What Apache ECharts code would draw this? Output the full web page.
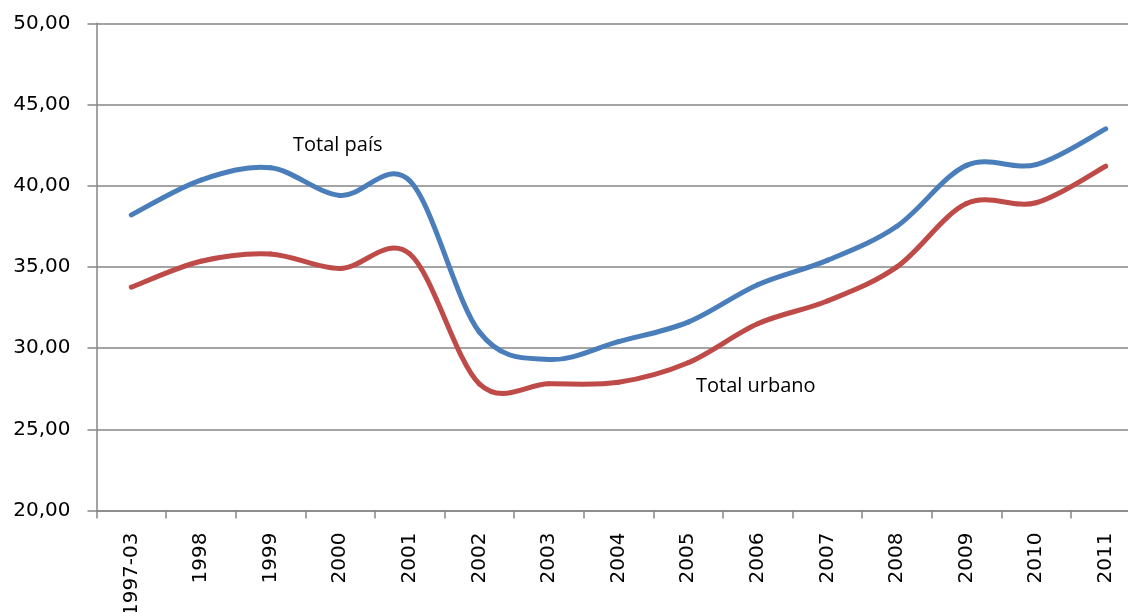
<!DOCTYPE html>
<html>
<head>
<meta charset="utf-8">
<script src="https://cdn.jsdelivr.net/npm/echarts@6/dist/echarts.min.js"></script>
<style>
html,body{margin:0;padding:0;background:#fff;}
#chart{width:1128px;height:612px;}
</style>
</head>
<body>
<div id="chart"></div>
<script>
var categories = ['1997-03','1998','1999','2000','2001','2002','2003','2004','2005','2006','2007','2008','2009','2010','2011'];
var totalPais = [38.2, 40.35, 41.1, 39.4, 40.3, 31.0, 29.3, 30.4, 31.6, 33.9, 35.4, 37.5, 41.25, 41.3, 43.5];
var totalUrbano = [33.75, 35.35, 35.8, 34.9, 35.8, 27.8, 27.8, 27.9, 29.1, 31.5, 32.9, 35.0, 38.9, 38.95, 41.2];
var yTicks = [20, 25, 30, 35, 40, 45, 50];
var labelPais = 'Total país';
var labelUrbano = 'Total urbano';

var chart = echarts.init(document.getElementById('chart'), null, {renderer: 'canvas'});
var gray = '#868686';

// Excel-like (Catmull-Rom) smoothed line, one bezier segment per data item,
// positioned through the cartesian scales with api.coord.
function smoothSeries(name, values, color) {
  return {
    name: name,
    type: 'custom',
    coordinateSystem: 'cartesian2d',
    data: values.map(function (v, i) { return [i, v]; }),
    encode: {x: 0, y: 1},
    clip: false,
    renderItem: function (params, api) {
      var i = params.dataIndex;
      var n = values.length;
      if (i >= n - 1) return null;
      function P(k) {
        k = Math.max(0, Math.min(n - 1, k));
        return api.coord([k, values[k]]);
      }
      var p0 = P(i - 1), p1 = P(i), p2 = P(i + 1), p3 = P(i + 2);
      var t = 1 / 6;
      var c1 = [p1[0] + (p2[0] - p0[0]) * t, p1[1] + (p2[1] - p0[1]) * t];
      var c2 = [p2[0] - (p3[0] - p1[0]) * t, p2[1] - (p3[1] - p1[1]) * t];
      return {
        type: 'bezierCurve',
        shape: {x1: p1[0], y1: p1[1], cpx1: c1[0], cpy1: c1[1], cpx2: c2[0], cpy2: c2[1], x2: p2[0], y2: p2[1]},
        style: {stroke: color, lineWidth: 5, fill: null, lineCap: 'round', lineJoin: 'round'}
      };
    }
  };
}

chart.setOption({
  animation: false,
  backgroundColor: '#ffffff',
  grid: {left: 96.5, top: 23.3, right: -12.5, bottom: 101.5, containLabel: false, outerBoundsMode: 'none'},
  xAxis: {
    type: 'category',
    data: categories,
    boundaryGap: true,
    axisLine: {show: true, lineStyle: {color: gray, width: 1.5}},
    axisTick: {show: true, length: 8, lineStyle: {color: gray, width: 1.5}},
    axisLabel: {
      rotate: 90, margin: 22, color: '#000', fontFamily: 'DejaVu Sans', fontSize: 20, interval: 0
    },
    splitLine: {show: false}
  },
  yAxis: {
    type: 'value',
    min: yTicks[0],
    max: yTicks[yTicks.length - 1],
    interval: 5,
    axisLine: {show: true, lineStyle: {color: gray, width: 1.5}},
    axisTick: {show: true, length: 9, lineStyle: {color: gray, width: 1.5}},
    axisLabel: {
      margin: 26, color: '#000', fontFamily: 'DejaVu Sans', fontSize: 20,
      formatter: function (v) { return v.toFixed(2).replace('.', ','); }
    },
    splitLine: {show: true, lineStyle: {color: gray, width: 1.5}}
  },
  series: [
    smoothSeries(labelPais, totalPais, '#4A7EBB'),
    smoothSeries(labelUrbano, totalUrbano, '#BE4B48')
  ],
  graphic: [
    {type: 'text', left: 293, top: 135, style: {text: labelPais, fill: '#000', font: '20px "Open Sans"'}},
    {type: 'text', left: 696, top: 376, style: {text: labelUrbano, fill: '#000', font: '20px "Open Sans"'}}
  ]
});
</script>
</body>
</html>
